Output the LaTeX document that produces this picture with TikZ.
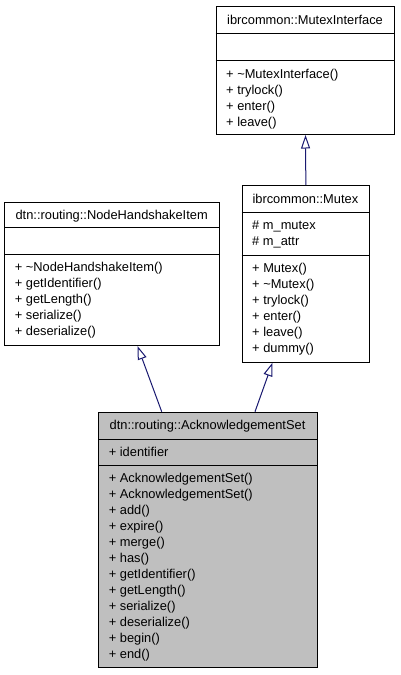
\documentclass[tikz,border=0pt]{standalone}
\usepackage{fontspec}
\setmainfont{Liberation Sans}
\usetikzlibrary{arrows.meta,calc}
\definecolor{edgeblue}{HTML}{191970}
\definecolor{ackgray}{HTML}{BFBFBF}
\tikzset{
  classbox/.style={draw=black, line width=1pt, inner sep=0pt, anchor=north west},
  sepline/.style={draw=black, line width=1pt},
  classtitle/.style={inner sep=0pt, anchor=base, font=\fontsize{12.85}{16}\selectfont},
  member/.style={inner sep=0pt, anchor=base west, font=\fontsize{12.85}{16}\selectfont},
  inherit/.style={draw=edgeblue, line width=1pt, -{Triangle[open, length=13.5pt, width=9pt, fill=white]}},
}
\begin{document}
\begin{tikzpicture}[x=1pt, y=-1pt]
\useasboundingbox (0,0) rectangle (400,675);
\fill[white] (0,0) rectangle (400,675);

% ibrcommon::MutexInterface
\node[classbox, minimum width=178.6pt, minimum height=128pt] (mi) at (215.7,6) {};
\draw[sepline] ($(mi.north west)+(0,27)$) -- ($(mi.north east)+(0,27)$);
\draw[sepline] ($(mi.north west)+(0,54)$) -- ($(mi.north east)+(0,54)$);
\node[classtitle] (mi-t) at (305,24) {ibrcommon::MutexInterface};
\node[member] (mi-o1) at (226,78) {+ \textasciitilde MutexInterface()};
\node[member] (mi-o2) at (226,94) {+ trylock()};
\node[member] (mi-o3) at (226,110) {+ enter()};
\node[member] (mi-o4) at (226,126) {+ leave()};

% ibrcommon::Mutex
\node[classbox, minimum width=127.3pt, minimum height=176.7pt] (mutex) at (241.7,185) {};
\draw[sepline] ($(mutex.north west)+(0,27.3)$) -- ($(mutex.north east)+(0,27.3)$);
\draw[sepline] ($(mutex.north west)+(0,70)$) -- ($(mutex.north east)+(0,70)$);
\node[classtitle] (mutex-t) at (305.35,203) {ibrcommon::Mutex};
\node[member] (mutex-a1) at (252,229.8) {\# m\_mutex};
\node[member] (mutex-a2) at (252,245.8) {\# m\_attr};
\node[member] (mutex-o1) at (252,272.5) {+ Mutex()};
\node[member] (mutex-o2) at (252,288.5) {+ \textasciitilde Mutex()};
\node[member] (mutex-o3) at (252,304.5) {+ trylock()};
\node[member] (mutex-o4) at (252,320.5) {+ enter()};
\node[member] (mutex-o5) at (252,336.5) {+ leave()};
\node[member] (mutex-o6) at (252,352.5) {+ dummy()};

% dtn::routing::NodeHandshakeItem
\node[classbox, minimum width=214.7pt, minimum height=143.3pt] (nhi) at (4.3,201.7) {};
\draw[sepline] ($(nhi.north west)+(0,26)$) -- ($(nhi.north east)+(0,26)$);
\draw[sepline] ($(nhi.north west)+(0,52.6)$) -- ($(nhi.north east)+(0,52.6)$);
\node[classtitle] (nhi-t) at (111.65,219.7) {dtn::routing::NodeHandshakeItem};
\node[member] (nhi-o1) at (14.6,271.8) {+ \textasciitilde NodeHandshakeItem()};
\node[member] (nhi-o2) at (14.6,287.8) {+ getIdentifier()};
\node[member] (nhi-o3) at (14.6,303.8) {+ getLength()};
\node[member] (nhi-o4) at (14.6,319.8) {+ serialize()};
\node[member] (nhi-o5) at (14.6,335.8) {+ deserialize()};

% dtn::routing::AcknowledgementSet
\node[classbox, fill=ackgray, minimum width=218.4pt, minimum height=255pt] (ack) at (98.3,411.7) {};
\draw[sepline] ($(ack.north west)+(0,27.3)$) -- ($(ack.north east)+(0,27.3)$);
\draw[sepline] ($(ack.north west)+(0,53.3)$) -- ($(ack.north east)+(0,53.3)$);
\node[classtitle] (ack-t) at (207.5,429.7) {dtn::routing::AcknowledgementSet};
\node[member] (ack-a1) at (108.6,456.5) {+ identifier};
\node[member] (ack-o1) at (108.6,482.5) {+ AcknowledgementSet()};
\node[member] (ack-o2) at (108.6,498.5) {+ AcknowledgementSet()};
\node[member] (ack-o3) at (108.6,514.5) {+ add()};
\node[member] (ack-o4) at (108.6,530.5) {+ expire()};
\node[member] (ack-o5) at (108.6,546.5) {+ merge()};
\node[member] (ack-o6) at (108.6,562.5) {+ has()};
\node[member] (ack-o7) at (108.6,578.5) {+ getIdentifier()};
\node[member] (ack-o8) at (108.6,594.5) {+ getLength()};
\node[member] (ack-o9) at (108.6,610.5) {+ serialize()};
\node[member] (ack-o10) at (108.6,626.5) {+ deserialize()};
\node[member] (ack-o11) at (108.6,642.5) {+ begin()};
\node[member] (ack-o12) at (108.6,658.5) {+ end()};

% inheritance connectors
\coordinate (nhiTip) at ($(nhi.south west)+(133.2,0)$);
\coordinate (ackL) at ($(ack.north west)+(63.4,0)$);
\coordinate (mutexTip) at ($(mutex.south west)+(30.8,0)$);
\coordinate (ackR) at ($(ack.north west)+(156.7,0)$);
\draw[inherit] (mutex.north) -- (mi.south);
\draw[inherit] (ackL) -- (nhiTip);
\draw[inherit] (ackR) -- (mutexTip);
\end{tikzpicture}
\end{document}
